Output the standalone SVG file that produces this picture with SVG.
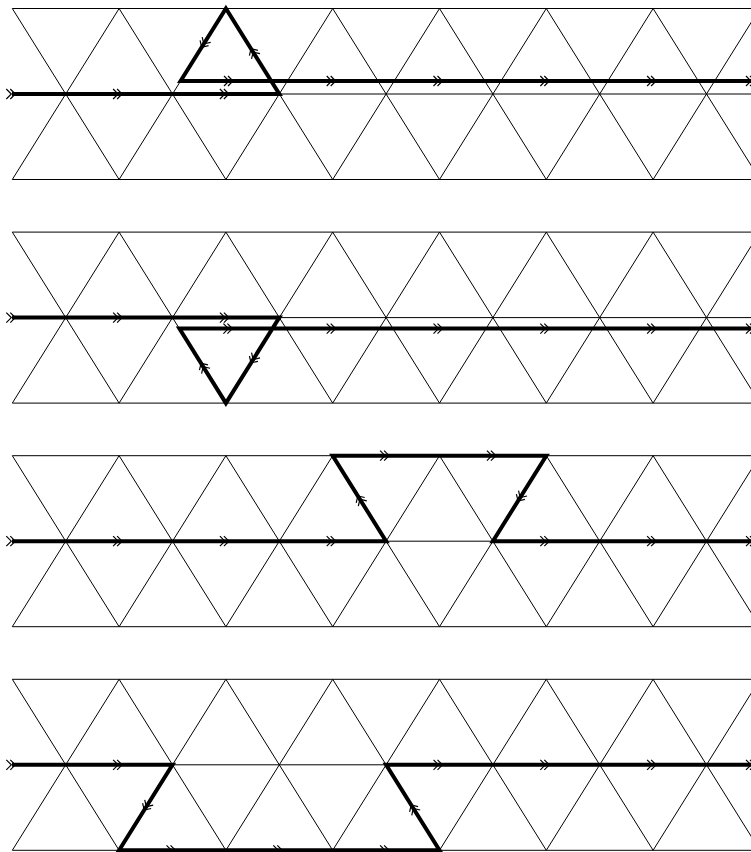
<svg xmlns="http://www.w3.org/2000/svg" xmlns:xlink="http://www.w3.org/1999/xlink" width="751" height="852" viewBox="0 0 751 852">
<style>
.lat{fill:none;stroke:#000;stroke-width:1}
.thick{fill:none;stroke:#000;stroke-width:4;stroke-linejoin:miter;stroke-miterlimit:10}
.chev{fill:none;stroke:#000;stroke-width:1.2}
</style>
<defs>
<g id="lattice">
<path class="lat" d="M12.3 0H751M12.3 85.5H751M12.3 171H751"/>
<path class="lat" d="M12.3 0L119.1 171M119.1 0L225.9 171M225.9 0L332.7 171M332.7 0L439.5 171M439.5 0L546.3 171M546.3 0L653.1 171M653.1 0L759.9 171M12.3 171L119.1 0M119.1 171L225.9 0M225.9 171L332.7 0M332.7 171L439.5 0M439.5 171L546.3 0M546.3 171L653.1 0M653.1 171L759.9 0"/>
</g>
<g id="ch"><path class="chev" d="M-6 -5L-1 0L-6 5M-2 -5L3 0L-2 5"/></g>
</defs>
<rect width="751" height="852" fill="#fff"/>
<g id="lattices">
<use id="panel-1" xlink:href="#lattice" transform="translate(0,8.5)"/>
<use id="panel-2" xlink:href="#lattice" transform="translate(0,232.1)"/>
<use id="panel-3" xlink:href="#lattice" transform="translate(0,455.7)"/>
<use id="panel-4" xlink:href="#lattice" transform="translate(0,679.3)"/>
</g>
<g id="connectors">
<path class="thick" d="M12 94H279.3L225.9 8.5L180.6 81H760"/>
<path class="thick" d="M12 317.6H279.3L225.9 403.1L179.4 328.6H760"/>
<path class="thick" d="M12 541.2H386.1L332.7 455.7H546.3L492.9 541.2H760"/>
<path class="thick" d="M12 764.8H172.5L119.1 850.3H439.5L386.1 764.8H760"/>
</g>
<g id="arrows">
<use xlink:href="#ch" transform="translate(12.3,94)"/>
<use xlink:href="#ch" transform="translate(119.1,94)"/>
<use xlink:href="#ch" transform="translate(225.9,94)"/>
<use xlink:href="#ch" transform="translate(203.25,44.75) rotate(122)"/>
<use xlink:href="#ch" transform="translate(252.6,51.25) rotate(238)"/>
<use xlink:href="#ch" transform="translate(230,81)"/>
<use xlink:href="#ch" transform="translate(332.7,81)"/>
<use xlink:href="#ch" transform="translate(439.5,81)"/>
<use xlink:href="#ch" transform="translate(546.3,81)"/>
<use xlink:href="#ch" transform="translate(653.1,81)"/>
<use xlink:href="#ch" transform="translate(752,81)"/>

<use xlink:href="#ch" transform="translate(12.3,317.6)"/>
<use xlink:href="#ch" transform="translate(119.1,317.6)"/>
<use xlink:href="#ch" transform="translate(225.9,317.6)"/>
<use xlink:href="#ch" transform="translate(252.6,360.35) rotate(122)"/>
<use xlink:href="#ch" transform="translate(202.65,365.85) rotate(238)"/>
<use xlink:href="#ch" transform="translate(229.4,328.6)"/>
<use xlink:href="#ch" transform="translate(332.7,328.6)"/>
<use xlink:href="#ch" transform="translate(439.5,328.6)"/>
<use xlink:href="#ch" transform="translate(546.3,328.6)"/>
<use xlink:href="#ch" transform="translate(653.1,328.6)"/>
<use xlink:href="#ch" transform="translate(752,328.6)"/>

<use xlink:href="#ch" transform="translate(12.3,541.2)"/>
<use xlink:href="#ch" transform="translate(119.1,541.2)"/>
<use xlink:href="#ch" transform="translate(225.9,541.2)"/>
<use xlink:href="#ch" transform="translate(332.7,541.2)"/>
<use xlink:href="#ch" transform="translate(359.4,498.45) rotate(238)"/>
<use xlink:href="#ch" transform="translate(386.1,455.7)"/>
<use xlink:href="#ch" transform="translate(492.9,455.7)"/>
<use xlink:href="#ch" transform="translate(519.6,498.45) rotate(122)"/>
<use xlink:href="#ch" transform="translate(546.3,541.2)"/>
<use xlink:href="#ch" transform="translate(653.1,541.2)"/>
<use xlink:href="#ch" transform="translate(752,541.2)"/>

<use xlink:href="#ch" transform="translate(12.3,764.8)"/>
<use xlink:href="#ch" transform="translate(119.1,764.8)"/>
<use xlink:href="#ch" transform="translate(145.8,807.55) rotate(122)"/>
<use xlink:href="#ch" transform="translate(172.5,850.3)"/>
<use xlink:href="#ch" transform="translate(279.3,850.3)"/>
<use xlink:href="#ch" transform="translate(386.1,850.3)"/>
<use xlink:href="#ch" transform="translate(412.8,807.55) rotate(238)"/>
<use xlink:href="#ch" transform="translate(439.5,764.8)"/>
<use xlink:href="#ch" transform="translate(546.3,764.8)"/>
<use xlink:href="#ch" transform="translate(653.1,764.8)"/>
<use xlink:href="#ch" transform="translate(752,764.8)"/>
</g>
</svg>
